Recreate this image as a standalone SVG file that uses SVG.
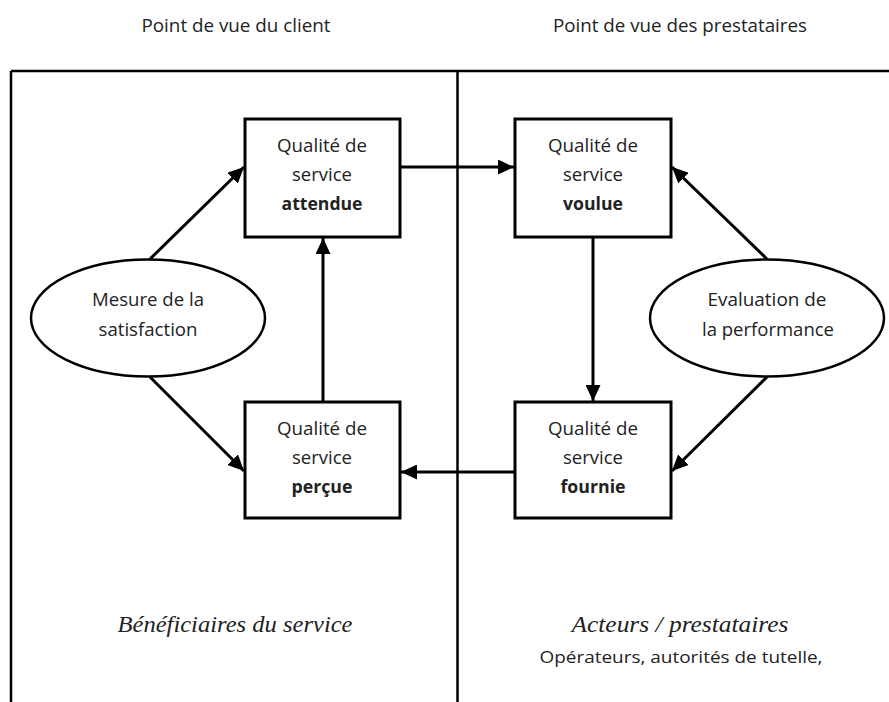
<svg xmlns="http://www.w3.org/2000/svg" width="889" height="702" viewBox="0 0 889 702">
<style>
.t{font-family:"Open Sans","Liberation Sans",sans-serif;font-size:18.5px;fill:#222;text-anchor:middle}
.b{font-weight:bold}
.i{font-family:"Liberation Serif",serif;font-style:italic;font-size:24px;fill:#222;text-anchor:middle}
.box{fill:#fff;stroke:#000;stroke-width:3}
.ell{fill:#fff;stroke:#000;stroke-width:2.5}
.frame{stroke:#000;stroke-width:2.5;fill:none}
.c{stroke:#000;stroke-width:3;fill:none;marker-end:url(#ah)}
</style>
<defs>
<marker id="ah" markerUnits="userSpaceOnUse" markerWidth="17" markerHeight="15" refX="16" refY="7.5" orient="auto">
<path d="M0,0 L16,7.5 L0,15 z" fill="#000"/>
</marker>
</defs>
<rect width="889" height="702" fill="#fff"/>
<g id="titles">
<text class="t" x="236" y="32" textLength="189" lengthAdjust="spacingAndGlyphs">Point de vue du client</text>
<text class="t" x="680" y="32" textLength="254" lengthAdjust="spacingAndGlyphs">Point de vue des prestataires</text>
</g>
<g id="frame">
<path class="frame" d="M11,71 H889 M11,71 V702 M457.5,71 V702"/>
</g>
<g id="connectors">
<line class="c" x1="150" y1="259" x2="244" y2="167"/>
<line class="c" x1="150" y1="377" x2="244" y2="471"/>
<line class="c" x1="323" y1="402" x2="323" y2="238"/>
<line class="c" x1="400" y1="167" x2="514" y2="167"/>
<line class="c" x1="593" y1="237" x2="593" y2="401"/>
<line class="c" x1="767" y1="259" x2="672" y2="167"/>
<line class="c" x1="767" y1="377" x2="672" y2="471"/>
<line class="c" x1="515" y1="472" x2="401" y2="472"/>
</g>
<g id="attendue">
<rect class="box" x="245" y="119" width="155" height="118"/>
<text class="t" x="322" y="152" textLength="90" lengthAdjust="spacingAndGlyphs">Qualité de</text>
<text class="t" x="322" y="181">service</text>
<text class="t b" x="322" y="210" textLength="81" lengthAdjust="spacingAndGlyphs">attendue</text>
</g>
<g id="voulue">
<rect class="box" x="515" y="119" width="156" height="118"/>
<text class="t" x="593" y="152" textLength="90" lengthAdjust="spacingAndGlyphs">Qualité de</text>
<text class="t" x="593" y="181">service</text>
<text class="t b" x="593" y="210" textLength="60" lengthAdjust="spacingAndGlyphs">voulue</text>
</g>
<g id="percue">
<rect class="box" x="245" y="402" width="155" height="116"/>
<text class="t" x="322" y="435" textLength="90" lengthAdjust="spacingAndGlyphs">Qualité de</text>
<text class="t" x="322" y="464">service</text>
<text class="t b" x="322" y="493" textLength="61" lengthAdjust="spacingAndGlyphs">perçue</text>
</g>
<g id="fournie">
<rect class="box" x="515" y="402" width="156" height="116"/>
<text class="t" x="593" y="435" textLength="90" lengthAdjust="spacingAndGlyphs">Qualité de</text>
<text class="t" x="593" y="464">service</text>
<text class="t b" x="593" y="493" textLength="65" lengthAdjust="spacingAndGlyphs">fournie</text>
</g>
<g id="satisfaction">
<ellipse class="ell" cx="148" cy="318" rx="117" ry="58.5"/>
<text class="t" x="148" y="306" textLength="112" lengthAdjust="spacingAndGlyphs">Mesure de la</text>
<text class="t" x="148" y="336" textLength="99" lengthAdjust="spacingAndGlyphs">satisfaction</text>
</g>
<g id="performance">
<ellipse class="ell" cx="767" cy="318" rx="117" ry="58.5"/>
<text class="t" x="767" y="306" textLength="119" lengthAdjust="spacingAndGlyphs">Evaluation de</text>
<text class="t" x="768" y="336" textLength="132" lengthAdjust="spacingAndGlyphs">la performance</text>
</g>
<g id="labels">
<text class="i" x="235" y="632" textLength="235" lengthAdjust="spacingAndGlyphs">Bénéficiaires du service</text>
<text class="i" x="680" y="632" textLength="217" lengthAdjust="spacingAndGlyphs">Acteurs / prestataires</text>
<text class="t" x="681" y="663" style="font-size:17px" textLength="283" lengthAdjust="spacingAndGlyphs">Opérateurs, autorités de tutelle,</text>
</g>
</svg>
